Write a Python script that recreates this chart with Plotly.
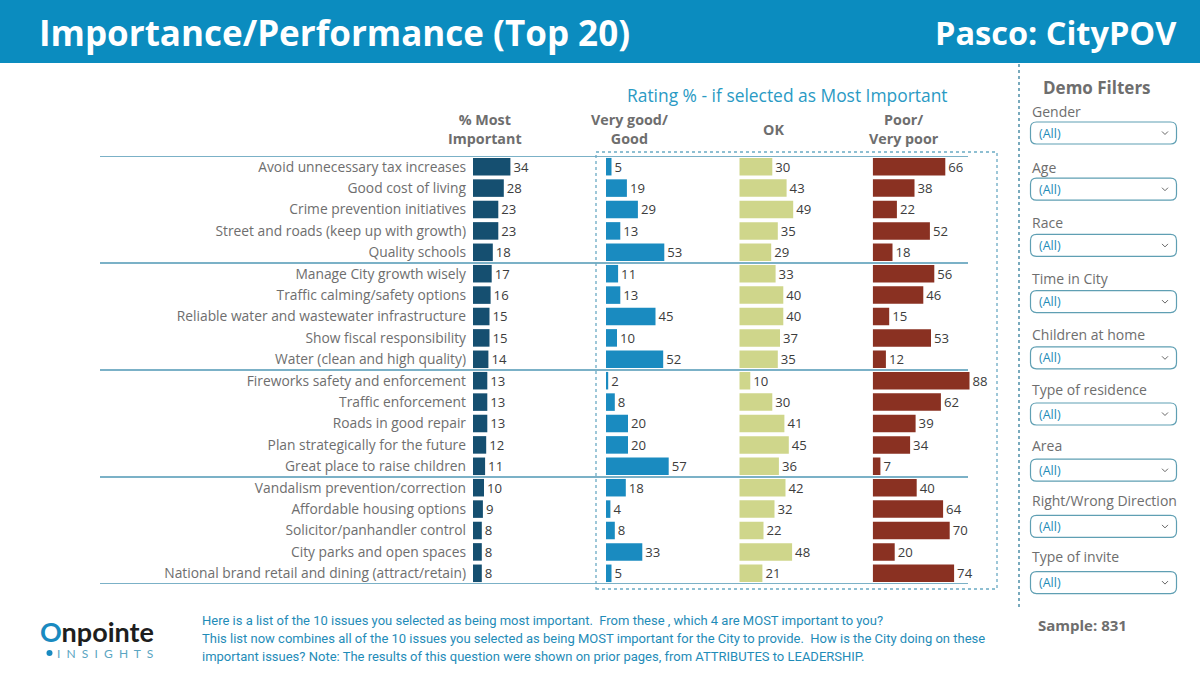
import plotly.graph_objects as go

W, H = 1200, 688

issues = [
    "Avoid unnecessary tax increases",
    "Good cost of living",
    "Crime prevention initiatives",
    "Street and roads (keep up with growth)",
    "Quality schools",
    "Manage City growth wisely",
    "Traffic calming/safety options",
    "Reliable water and wastewater infrastructure",
    "Show fiscal responsibility",
    "Water (clean and high quality)",
    "Fireworks safety and enforcement",
    "Traffic enforcement",
    "Roads in good repair",
    "Plan strategically for the future",
    "Great place to raise children",
    "Vandalism prevention/correction",
    "Affordable housing options",
    "Solicitor/panhandler control",
    "City parks and open spaces",
    "National brand retail and dining (attract/retain)",
]
pct_most_important = [34, 28, 23, 23, 18, 17, 16, 15, 15, 14, 13, 13, 13, 12, 11, 10, 9, 8, 8, 8]
very_good_good = [5, 19, 29, 13, 53, 11, 13, 45, 10, 52, 2, 8, 20, 20, 57, 18, 4, 8, 33, 5]
ok = [30, 43, 49, 35, 29, 33, 40, 40, 37, 35, 10, 30, 41, 45, 36, 42, 32, 22, 48, 21]
poor_very_poor = [66, 38, 22, 52, 18, 56, 46, 15, 53, 12, 88, 62, 39, 34, 7, 40, 64, 70, 20, 74]

column_headers = ["% Most<br>Important", "Very good/<br>Good", "OK", "Poor/<br>Very poor"]
filters = ["Gender", "Age", "Race", "Time in City", "Children at home", "Type of residence",
           "Area", "Right/Wrong Direction", "Type of invite"]

FONT = "Open Sans"
GRAY = "#6e6e6e"
TEAL = "#1f8cb8"


def px(x):
    return x / W


def py(y):
    return 1 - y / H


fig = go.Figure()

series = [pct_most_important, very_good_good, ok, poor_very_poor]
colors = ["#154f70", "#1a8bc0", "#cfd68b", "#8a3122"]
col_x0 = [473, 606, 739.3, 872.7]
col_w = 110
axis_names = ["x", "x2", "x3", "x4"]

for i, (vals, c) in enumerate(zip(series, colors)):
    fig.add_trace(go.Bar(
        y=issues, x=vals, orientation="h",
        marker=dict(color=c, line=dict(width=0)),
        width=0.82,
        text=[str(v) for v in vals], textposition="outside",
        textfont=dict(family=FONT, size=13.5, color="#3c3c3c"),
        cliponaxis=False, hoverinfo="skip",
        xaxis=axis_names[i], yaxis="y",
    ))

ydom = [py(584), py(156)]
layout_axes = {}
for i in range(4):
    key = "xaxis" if i == 0 else f"xaxis{i+1}"
    layout_axes[key] = dict(
        domain=[px(col_x0[i]), px(col_x0[i] + col_w)], range=[0, 100],
        showgrid=False, zeroline=False, showticklabels=False, showline=False,
        anchor="y", fixedrange=True,
    )

fig.update_layout(
    **layout_axes,
    yaxis=dict(
        domain=ydom, range=[19.5, -0.5], type="category",
        categoryorder="array", categoryarray=issues,
        showgrid=False, zeroline=False, showline=False, ticks="",
        tickfont=dict(family=FONT, size=13.8, color=GRAY),
        ticklabelstandoff=6, anchor="x", fixedrange=True,
    ),
    width=W, height=H, margin=dict(l=0, r=0, t=0, b=0),
    paper_bgcolor="white", plot_bgcolor="white",
    showlegend=False, bargap=0.18,
    font=dict(family=FONT),
)

shapes = []
# header band
shapes.append(dict(type="rect", xref="paper", yref="paper", x0=0, x1=1, y0=py(63), y1=1,
                   fillcolor="#0b8cbf", line=dict(width=0), layer="below"))
# separator lines
for b in [-0.5, 4.5, 9.5, 14.5, 19.5]:
    shapes.append(dict(type="line", xref="paper", yref="y", x0=px(100), x1=px(968), y0=b, y1=b,
                       line=dict(color="#4f97b5", width=1.3)))
# dotted rect around ratings
shapes.append(dict(type="rect", xref="paper", yref="paper", x0=px(596), x1=px(997),
                   y0=py(589), y1=py(152), line=dict(color="#6aaac4", width=1.3, dash="dot"),
                   fillcolor="rgba(0,0,0,0)"))
# panel separator
shapes.append(dict(type="line", xref="paper", yref="paper", x0=px(1019), x1=px(1019),
                   y0=py(607), y1=py(63), line=dict(color="#4d8ea8", width=1.5, dash="dot")))


def rounded_rect(x0, y0, x1, y1, r):
    pts = [
        ("M", [(x0 + r, y0)]),
        ("L", [(x1 - r, y0)]),
        ("Q", [(x1, y0), (x1, y0 + r)]),
        ("L", [(x1, y1 - r)]),
        ("Q", [(x1, y1), (x1 - r, y1)]),
        ("L", [(x0 + r, y1)]),
        ("Q", [(x0, y1), (x0, y1 - r)]),
        ("L", [(x0, y0 + r)]),
        ("Q", [(x0, y0), (x0 + r, y0)]),
    ]
    s = ""
    for cmd, ps in pts:
        s += cmd + " ".join(f"{px(a):.5f},{py(b):.5f}" for a, b in ps) + " "
    return s + "Z"


annotations = []
for i, name in enumerate(filters):
    ly = 111.7 + 55.6 * i
    by = 122 + 56.2 * i
    annotations.append(dict(text=name, x=px(1030), y=py(ly), xref="paper", yref="paper",
                            xanchor="left", yanchor="middle", showarrow=False,
                            font=dict(family=FONT, size=14, color=GRAY)))
    shapes.append(dict(type="path", xref="paper", yref="paper",
                       path=rounded_rect(1030.5, by, 1176.5, by + 22, 6),
                       line=dict(color="#5f9fb3", width=1.2), fillcolor="white"))
    annotations.append(dict(text="(All)", x=px(1037), y=py(by + 11), xref="paper", yref="paper",
                            xanchor="left", yanchor="middle", showarrow=False,
                            font=dict(family=FONT, size=12.5, color=TEAL)))
    cx, cy = 1165, by + 11
    shapes.append(dict(type="path", xref="paper", yref="paper",
                       path=f"M{px(cx-3):.5f},{py(cy-1.5):.5f} L{px(cx):.5f},{py(cy+1.5):.5f} L{px(cx+3):.5f},{py(cy-1.5):.5f}",
                       line=dict(color="#666", width=1)))

# header texts
annotations.append(dict(text="<b>Importance/Performance (Top 20)</b>", x=px(37), y=py(33),
                        xref="paper", yref="paper", xanchor="left", yanchor="middle", showarrow=False,
                        font=dict(family=FONT, size=35, color="white")))
annotations.append(dict(text="<b>Pasco: CityPOV</b>", x=px(1179), y=py(33),
                        xref="paper", yref="paper", xanchor="right", yanchor="middle", showarrow=False,
                        font=dict(family=FONT, size=32.5, color="white")))
annotations.append(dict(text="Rating % - if selected as Most Important", x=px(787), y=py(95),
                        xref="paper", yref="paper", xanchor="center", yanchor="middle", showarrow=False,
                        font=dict(family=FONT, size=17.4, color="#2a9ac4")))
head_cx = [485, 629, 773, 904]
for txt, cx in zip(column_headers, head_cx):
    annotations.append(dict(text=f"<b>{txt}</b>", x=px(cx), y=py(129),
                            xref="paper", yref="paper", xanchor="center", yanchor="middle",
                            showarrow=False, font=dict(family=FONT, size=14.3, color=GRAY)))
annotations.append(dict(text="<b>Demo Filters</b>", x=px(1097), y=py(87),
                        xref="paper", yref="paper", xanchor="center", yanchor="middle", showarrow=False,
                        font=dict(family=FONT, size=17, color=GRAY)))
annotations.append(dict(text="<b>Sample: 831</b>", x=px(1082), y=py(625),
                        xref="paper", yref="paper", xanchor="center", yanchor="middle", showarrow=False,
                        font=dict(family=FONT, size=15, color=GRAY)))

footer = [
    "Here is a list of the 10 issues you selected as being most important.  From these , which 4 are MOST important to you?",
    "This list now combines all of the 10 issues you selected as being MOST important for the City to provide.  How is the City doing on these",
    "important issues? Note: The results of this question were shown on prior pages, from ATTRIBUTES to LEADERSHIP.",
]
for i, line in enumerate(footer):
    annotations.append(dict(text=line, x=px(200), y=py(620 + 18 * i),
                            xref="paper", yref="paper", xanchor="left", yanchor="middle", showarrow=False,
                            font=dict(family="Roboto", size=13, color=TEAL)))

# logo
annotations.append(dict(text="<b><span style='color:#1a8ac0'>O</span>npointe</b>", x=px(38), y=py(631),
                        xref="paper", yref="paper", xanchor="left", yanchor="middle", showarrow=False,
                        font=dict(family="Lato", size=27, color="#1e1e1e")))
annotations.append(dict(text="I  N  S  I  G  H  T  S", x=px(55), y=py(653),
                        xref="paper", yref="paper", xanchor="left", yanchor="middle", showarrow=False,
                        font=dict(family="Lato", size=12, color="#5aa5c2")))
shapes.append(dict(type="circle", xref="paper", yref="paper", x0=px(46.5), x1=px(52.5),
                   y0=py(656), y1=py(650), fillcolor="#1a8ac0", line=dict(width=0)))

fig.update_layout(shapes=shapes, annotations=annotations)
fig.write_html("out.html")
